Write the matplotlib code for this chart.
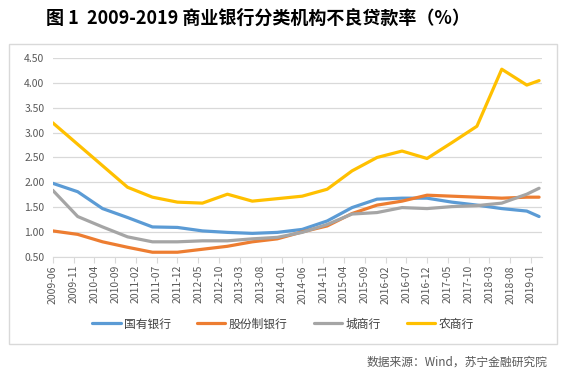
import datetime as dt
import numpy as np
import matplotlib
matplotlib.use("Agg")
import matplotlib.pyplot as plt
import matplotlib.dates as mdates
from matplotlib.patches import Rectangle

plt.rcParams['font.family'] = ['Noto Sans CJK SC', 'DejaVu Sans']

# 半年度数据（最后一个点为2019Q1）
dates = ["2009-06", "2009-12", "2010-06", "2010-12", "2011-06", "2011-12",
         "2012-06", "2012-12", "2013-06", "2013-12", "2014-06", "2014-12",
         "2015-06", "2015-12", "2016-06", "2016-12", "2017-06", "2017-12",
         "2018-06", "2018-12", "2019-03"]
state_banks = [1.98, 1.81, 1.47, 1.29, 1.10, 1.09, 1.02, 0.99, 0.97, 0.99, 1.05,
               1.22, 1.49, 1.66, 1.68, 1.68, 1.60, 1.54, 1.47, 1.42, 1.31]
joint_stock = [1.02, 0.95, 0.80, 0.69, 0.59, 0.59, 0.65, 0.71, 0.80, 0.86, 1.00,
               1.12, 1.37, 1.54, 1.62, 1.74, 1.72, 1.70, 1.68, 1.70, 1.70]
city_banks = [1.84, 1.31, 1.10, 0.90, 0.80, 0.80, 0.82, 0.82, 0.86, 0.89, 0.99,
              1.15, 1.36, 1.39, 1.49, 1.47, 1.51, 1.53, 1.58, 1.76, 1.88]
rural_banks = [3.20, None, None, 1.90, 1.70, 1.60, 1.58, 1.76, 1.62, 1.67, 1.72,
               1.86, 2.23, 2.50, 2.63, 2.48, 2.80, 3.13, 4.28, 3.96, 4.05]

names = ["国有银行", "股份制银行", "城商行", "农商行"]
colors = ["#5B9BD5", "#ED7D31", "#A5A5A5", "#FFC000"]

x = [dt.datetime.strptime(d, "%Y-%m") for d in dates]

fig = plt.figure(figsize=(5.66, 3.79), dpi=100)
ax = fig.add_axes([0.0931, 0.3227, 0.957 - 0.0931, 0.8462 - 0.3227])

for vals, name, c in zip([state_banks, joint_stock, city_banks, rural_banks], names, colors):
    v = np.array([np.nan if a is None else a for a in vals])
    ok = ~np.isnan(v)
    ax.plot(np.array(x)[ok], v[ok], color=c, lw=2.3, label=name, solid_capstyle='round')

ax.set_ylim(0.5, 4.5)
ax.set_yticks(np.arange(0.5, 4.51, 0.5))
ax.set_yticklabels([f"{v:.2f}" for v in np.arange(0.5, 4.51, 0.5)])
ax.set_xlim(dt.datetime(2009, 6, 1), dt.datetime(2019, 3, 20))

ticks = []
y, m = 2009, 6
while (y, m) <= (2019, 1):
    ticks.append(dt.datetime(y, m, 1))
    m += 5
    if m > 12:
        m -= 12
        y += 1
ax.set_xticks(ticks)
ax.xaxis.set_major_formatter(mdates.DateFormatter("%Y-%m"))
plt.setp(ax.get_xticklabels(), rotation=90)

ax.grid(axis='y', color='#D9D9D9', lw=0.9)
ax.set_axisbelow(True)
for s in ['top', 'right', 'left']:
    ax.spines[s].set_visible(False)
ax.spines['bottom'].set_color('#D9D9D9')
ax.tick_params(axis='y', length=0, labelsize=7.5, labelcolor='#595959', pad=6)
ax.tick_params(axis='x', length=4, color='#D9D9D9', labelsize=7.5, labelcolor='#595959', pad=2)

fig.legend(loc='center', bbox_to_anchor=(0.5, 0.145), ncol=4, frameon=False,
           fontsize=8.5, handlelength=2.4, columnspacing=2.2, handletextpad=0.3,
           labelcolor='#404040')

fig.patches.append(Rectangle((0.0159, 0.0923), 0.968, 0.7916, transform=fig.transFigure,
                             fill=False, edgecolor='#D9D9D9', lw=1))

fig.text(0.456, 0.952, "图 1  2009-2019 商业银行分类机构不良贷款率（%）", ha='center', va='center',
         fontsize=13, fontweight='bold', color='black')
fig.text(0.968, 0.045, "数据来源：Wind，苏宁金融研究院", ha='right', va='center',
         fontsize=8.5, color='#595959')

fig.savefig("out.png", dpi=100)
